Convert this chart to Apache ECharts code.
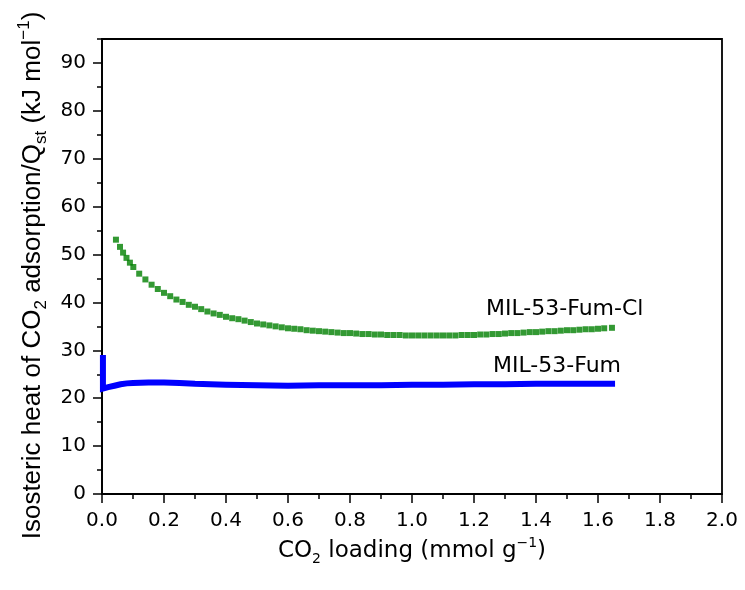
<!DOCTYPE html>
<html><head><meta charset="utf-8">
<script src="https://cdn.jsdelivr.net/npm/echarts@6/dist/echarts.min.js"></script>
<style>html,body{margin:0;padding:0;background:#fff}#c{width:745px;height:590px}</style>
</head><body><div id="c"></div>
<script>
// Tick values
const xTickLabels = ['0.0','0.2','0.4','0.6','0.8','1.0','1.2','1.4','1.6','1.8','2.0'];
const yMajorTicks = [0,10,20,30,40,50,60,70,80,90];
const yMinorTicks = [5,15,25,35,45,55,65,75,85,95];

// MIL-53-Fum-Cl (green squares)
const clX = [0.045,0.058,0.068,0.079,0.090,0.101,0.120,0.140,0.160,0.180,0.200,0.220,0.240,0.260,0.280,0.300,0.320,0.340,0.360,0.380,0.400,0.420,0.440,0.460,0.480,0.500,0.520,0.540,0.560,0.580,0.600,0.620,0.640,0.660,0.680,0.700,0.720,0.740,0.760,0.780,0.800,0.820,0.840,0.860,0.880,0.900,0.920,0.940,0.960,0.980,1.000,1.020,1.040,1.060,1.080,1.100,1.120,1.140,1.160,1.180,1.200,1.220,1.240,1.260,1.280,1.300,1.320,1.340,1.360,1.380,1.400,1.420,1.440,1.460,1.480,1.500,1.520,1.540,1.560,1.580,1.600,1.620,1.645];
const clY = [53.1,51.6,50.4,49.3,48.3,47.4,46.0,44.8,43.7,42.8,42.0,41.3,40.6,40.1,39.5,39.1,38.6,38.1,37.7,37.4,37.0,36.7,36.5,36.2,35.9,35.6,35.4,35.2,35.0,34.8,34.6,34.5,34.4,34.2,34.1,34.0,33.9,33.8,33.7,33.6,33.6,33.5,33.4,33.4,33.3,33.3,33.2,33.2,33.2,33.1,33.1,33.1,33.1,33.1,33.1,33.1,33.1,33.1,33.2,33.2,33.2,33.3,33.3,33.4,33.4,33.5,33.6,33.6,33.7,33.8,33.8,33.9,34.0,34.0,34.1,34.2,34.2,34.3,34.4,34.4,34.5,34.6,34.7];

// MIL-53-Fum (blue, dense markers forming a band)
const fumX = [0.003,0.003,0.008,0.020,0.040,0.060,0.080,0.100,0.150,0.200,0.250,0.300,0.350,0.400,0.500,0.600,0.700,0.800,0.900,1.000,1.100,1.200,1.300,1.400,1.500,1.600,1.655];
const fumY = [29.0,22.0,22.1,22.3,22.6,22.9,23.1,23.2,23.3,23.3,23.2,23.0,22.9,22.8,22.7,22.6,22.7,22.7,22.7,22.8,22.8,22.9,22.9,23.0,23.0,23.0,23.0];

const clLabel = 'MIL-53-Fum-Cl';
const fumLabel = 'MIL-53-Fum';

const chart = echarts.init(document.getElementById('c'), null, {renderer: 'canvas'});
const HF = 'DejaVu Sans';
const VF = 'Liberation Sans';
const black = '#000';

chart.setOption({
  animation: false,
  backgroundColor: '#fff',
  grid: {left: 102, right: 23, top: 39, bottom: 96, show: true, borderColor: black, borderWidth: 1.8, backgroundColor: 'transparent'},
  xAxis: {
    type: 'value', min: 0, max: 2, interval: 0.2,
    axisLine: {show: true, onZero: false, lineStyle: {color: black, width: 1.8}},
    axisTick: {show: true, length: 9, lineStyle: {color: black, width: 1.5}},
    minorTick: {show: true, splitNumber: 2, length: 5, lineStyle: {color: black, width: 1.5}},
    splitLine: {show: false}, minorSplitLine: {show: false},
    axisLabel: {color: black, fontFamily: HF, fontSize: 20, margin: 17,
      formatter: v => xTickLabels[Math.round(v / 0.2)] ?? ''},
    name: '{m|CO}{sub|2}{m| loading (mmol g}{sup|\u22121}{m|)}',
    nameLocation: 'middle', nameGap: 40,
    nameTextStyle: {color: black, fontFamily: HF, rich: {
      m: {fontFamily: HF, fontSize: 23, color: black, lineHeight: 30},
      sub: {fontFamily: HF, fontSize: 14, color: black, verticalAlign: 'bottom', lineHeight: 30},
      sup: {fontFamily: HF, fontSize: 14, color: black, verticalAlign: 'top', lineHeight: 30}
    }}
  },
  yAxis: [{
    type: 'value', min: 0, max: 95, interval: 10, position: 'left', offset: 0,
    axisLine: {show: true, onZero: false, lineStyle: {color: black, width: 1.8}},
    axisTick: {show: true, length: 9, customValues: yMajorTicks, lineStyle: {color: black, width: 1.5}},
    splitLine: {show: false},
    axisLabel: {color: black, fontFamily: HF, fontSize: 20, margin: 16, customValues: yMajorTicks},
    name: '{m|Isosteric heat of CO}{sub|2}{m| adsorption/Q}{sub|st}{m| (kJ mol}{sup|\u22121}{m|)}',
    nameLocation: 'middle', nameGap: 46,
    nameTextStyle: {color: black, fontFamily: VF, padding: [0, 18, 0, 0], rich: {
      m: {fontFamily: VF, fontSize: 26, color: black, lineHeight: 34},
      sub: {fontFamily: VF, fontSize: 17, color: black, verticalAlign: 'bottom', lineHeight: 34},
      sup: {fontFamily: VF, fontSize: 17, color: black, verticalAlign: 'top', lineHeight: 34}
    }}
  }, {
    type: 'value', min: 0, max: 95, interval: 5, position: 'left', offset: 0,
    axisLine: {show: false},
    axisTick: {show: true, length: 5, customValues: yMinorTicks, lineStyle: {color: black, width: 1.5}},
    splitLine: {show: false},
    axisLabel: {show: false}
  }],
  series: [{
    name: clLabel, type: 'scatter', yAxisIndex: 0,
    symbol: 'rect', symbolSize: 6,
    itemStyle: {color: '#008000'},
    data: clX.map((x, i) => [x, clY[i]])
  }, {
    name: fumLabel, type: 'line', yAxisIndex: 0,
    showSymbol: false, symbol: 'none',
    lineStyle: {color: '#0000ff', width: 6, cap: 'butt', join: 'miter'},
    data: fumX.map((x, i) => [x, fumY[i]])
  }],
  graphic: [
    {type: 'text', left: 486, top: 298, style: {text: clLabel, fontFamily: HF, fontSize: 22, fill: black}},
    {type: 'text', left: 493, top: 355, style: {text: fumLabel, fontFamily: HF, fontSize: 22, fill: black}}
  ]
});
</script>
</body></html>
